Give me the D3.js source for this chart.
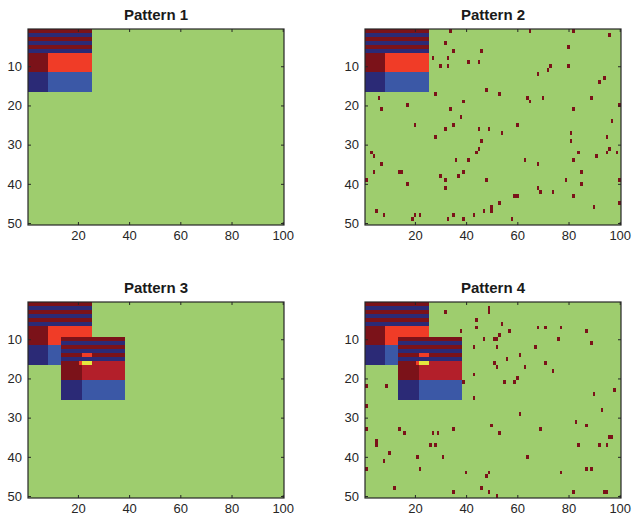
<!DOCTYPE html>
<html>
<head>
<meta charset="utf-8">
<script src="https://cdn.jsdelivr.net/npm/d3@7"></script>
<style>
  html, body { margin: 0; padding: 0; background: #ffffff; }
  svg { display: block; }
  text { font-family: "Liberation Sans", Arial, Helvetica, sans-serif; }
</style>
</head>
<body>
<svg id="chart" width="643" height="517"></svg>
<script>
// ---------------- data ----------------
const nRows = 50;
const nCols = 100;
const xTickValues = [20, 40, 60, 80, 100];
const yTickValues = [10, 20, 30, 40, 50];
const panelTitles = ["Pattern 1", "Pattern 2", "Pattern 3", "Pattern 4"];

// cell value codes: 0 background, 1 dark red, 2 navy, 3 red, 4 blue, 5 crimson, 6 yellow
// regions: [rowStart, rowEnd, colStart, colEnd, code]
const baseBlock = [
  [1, 1, 1, 25, 1], [2, 2, 1, 25, 2], [3, 3, 1, 25, 1],
  [4, 4, 1, 25, 2], [5, 5, 1, 25, 1], [6, 6, 1, 25, 2],
  [7, 11, 1, 8, 1], [7, 11, 9, 25, 3],
  [12, 16, 1, 8, 2], [12, 16, 9, 25, 4]
];
const shiftedBlock = [
  [10, 10, 14, 38, 1], [11, 11, 14, 38, 2], [12, 12, 14, 38, 1],
  [13, 13, 14, 38, 2], [14, 14, 14, 38, 1], [15, 15, 14, 38, 2],
  [16, 20, 14, 21, 1], [16, 20, 22, 38, 5],
  [21, 25, 14, 21, 2], [21, 25, 22, 38, 4],
  [14, 14, 22, 25, 3], [16, 16, 21, 21, 3], [16, 16, 22, 25, 6]
];
// isolated noise cells [row, col] (code 1)
const noise2 = [
  [1,34],[1,65],[1,82],[2,96],[4,32],[5,80],[6,35],[6,46],[8,27],[8,33],[9,41],[9,45],
  [10,30],[10,33],[10,73],[10,80],[11,72],[12,68],[13,94],[14,92],[16,48],[17,28],[17,53],
  [18,6],[18,64],[18,70],[18,89],[19,39],[19,65],[20,17],[20,100],[21,7],[21,34],[21,82],[23,38],
  [24,97],[25,20],[25,35],[25,60],[26,32],[26,45],[26,49],[27,54],[27,81],[28,28],[28,95],
  [29,46],[29,81],[31,45],[31,96],[32,3],[32,44],[32,84],[32,95],[32,99],[33,4],[33,91],
  [34,36],[34,41],[34,63],[34,82],[35,7],[35,68],[37,4],[37,14],[37,15],[37,39],[37,85],
  [38,30],[38,37],[39,1],[39,32],[39,48],[39,79],[39,100],[40,17],[40,85],[41,32],[41,68],
  [42,69],[42,74],[43,59],[43,60],[43,82],[45,53],[45,100],[46,50],[47,50],[46,90],[47,5],
  [47,47],[48,8],[48,20],[48,22],[48,35],[48,43],[49,19],[49,33],[49,39],[49,58]
];
const noise4 = [
  [2,49],[3,49],[3,32],[5,44],[6,54],[7,44],[7,68],[7,71],[7,77],[8,38],[8,57],[8,87],
  [9,53],[10,47],[10,51],[10,52],[10,76],[11,89],[12,43],[12,52],[12,67],[14,61],[15,56],
  [16,51],[16,71],[17,52],[17,63],[18,74],[19,43],[20,60],[21,39],[21,55],[21,59],[22,1],
  [22,9],[23,98],[24,90],[25,43],[27,1],[28,93],[29,61],[31,83],[32,50],[32,87],[33,1],
  [33,14],[33,35],[33,69],[34,16],[34,27],[34,29],[34,53],[35,96],[35,97],[36,5],[37,5],
  [37,26],[37,28],[37,84],[37,92],[37,95],[39,10],[40,21],[40,31],[40,64],[41,8],[43,1],
  [43,22],[43,87],[43,89],[44,40],[44,49],[44,77],[45,48],[48,12],[48,46],[49,35],[49,49],
  [49,82],[49,94],[49,95],[50,52]
];

// ---------------- style ----------------
const palette = ["#9ecd6e", "#7b1219", "#2b2a76", "#f03c27", "#3b58a6", "#b31f2a", "#e4e63e"];
const panelW = 256, panelH = 196;
const panelPos = [[28, 29], [365, 29], [28, 302], [365, 302]];

const panelLayers = [
  { blocks: [baseBlock], noise: [] },
  { blocks: [baseBlock], noise: noise2 },
  { blocks: [baseBlock, shiftedBlock], noise: [] },
  { blocks: [baseBlock, shiftedBlock], noise: noise4 }
];

function buildGrid(layer) {
  const g = Array.from({ length: nRows }, () => new Array(nCols).fill(0));
  layer.blocks.forEach(block => {
    block.forEach(([r0, r1, c0, c1, code]) => {
      for (let r = r0; r <= r1; r++) for (let c = c0; c <= c1; c++) g[r - 1][c - 1] = code;
    });
  });
  layer.noise.forEach(([r, c]) => { g[r - 1][c - 1] = 1; });
  const cells = [];
  for (let r = 0; r < nRows; r++) for (let c = 0; c < nCols; c++) cells.push({ row: r + 1, col: c + 1, v: g[r][c] });
  return cells;
}

const svg = d3.select("#chart");
const color = d3.scaleOrdinal().domain(d3.range(palette.length)).range(palette);
const x = d3.scaleLinear().domain([0.5, nCols + 0.5]).range([0, panelW]);
const y = d3.scaleLinear().domain([0.5, nRows + 0.5]).range([0, panelH]);

panelTitles.forEach((title, i) => {
  const [left, top] = panelPos[i];
  const g = svg.append("g").attr("transform", `translate(${left},${top})`);
  const cells = buildGrid(panelLayers[i]);

  g.append("g").attr("shape-rendering", "crispEdges")
    .selectAll("rect").data(cells).join("rect")
    .attr("x", d => x(d.col - 0.5))
    .attr("y", d => y(d.row - 0.5))
    .attr("width", d => x(d.col + 0.5) - x(d.col - 0.5) + 0.02)
    .attr("height", d => y(d.row + 0.5) - y(d.row - 0.5) + 0.02)
    .attr("fill", d => color(d.v));

  const tickLen = 3;
  const axisColor = "#262626";
  // bottom axis
  const ax = g.append("g").attr("transform", `translate(0,${panelH})`)
    .call(d3.axisBottom(x).tickValues(xTickValues).tickSizeInner(-tickLen).tickSizeOuter(0).tickPadding(6));
  // top axis ticks (mirrored)
  const axT = g.append("g")
    .call(d3.axisTop(x).tickValues(xTickValues).tickSizeInner(-tickLen).tickSizeOuter(0).tickFormat(""));
  // left axis
  const ay = g.append("g")
    .call(d3.axisLeft(y).tickValues(yTickValues).tickSizeInner(-tickLen).tickSizeOuter(0).tickPadding(6));
  // right axis ticks (mirrored)
  const ayR = g.append("g").attr("transform", `translate(${panelW},0)`)
    .call(d3.axisRight(y).tickValues(yTickValues).tickSizeInner(-tickLen).tickSizeOuter(0).tickFormat(""));

  [ax, axT, ay, ayR].forEach(a => {
    a.select(".domain").remove();
    a.selectAll(".tick line").attr("stroke", axisColor).attr("stroke-width", 1);
    a.selectAll(".tick text").attr("fill", axisColor).attr("font-size", 13)
      .attr("font-family", "'Liberation Sans', Arial, sans-serif");
  });

  // box
  g.append("rect").attr("x", 0).attr("y", 0).attr("width", panelW).attr("height", panelH)
    .attr("fill", "none").attr("stroke", axisColor).attr("stroke-width", 1.2);

  g.append("text")
    .attr("x", panelW / 2).attr("y", -9)
    .attr("text-anchor", "middle")
    .attr("font-size", 15).attr("font-weight", "bold").attr("fill", "#1a1a1a")
    .text(title);
});
</script>
</body>
</html>
